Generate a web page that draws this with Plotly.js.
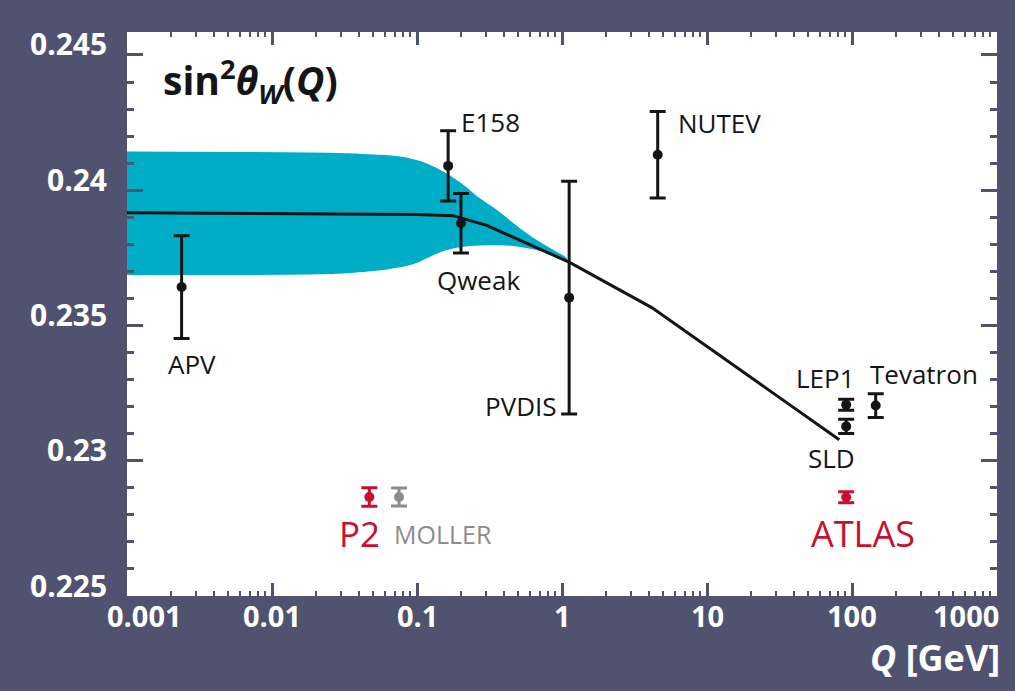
<!DOCTYPE html>
<html>
<head>
<meta charset="utf-8">
<script src="https://cdn.plot.ly/plotly-3.0.1.min.js"></script>
<style>
  html, body { margin: 0; padding: 0; background: #505370; }
  #chart { width: 1015px; height: 691px; }
</style>
</head>
<body>
<div id="chart"></div>
<script>
// Measurements of the weak mixing angle vs. momentum transfer Q [GeV]
const expNames = ['APV', 'E158', 'Qweak', 'PVDIS', 'NUTEV', 'LEP1', 'SLD', 'Tevatron'];
const expQ     = [0.00238, 0.164, 0.201, 1.12, 4.57, 91.19, 91.19, 145.7];
const expS     = [0.23642, 0.2409, 0.23878, 0.23603, 0.24131, 0.23207, 0.23127, 0.23204];
const expErr   = [0.0019, 0.0013, 0.0011, 0.0043, 0.0016, 0.0002, 0.00026, 0.00044];

// Projected precision of upcoming experiments
const futNames = ['P2', 'ATLAS'];
const futQ     = [0.0469, 91.19];
const futS     = [0.22866, 0.22865];
const futErr   = [0.00034, 0.0002];

const mollerQ   = [0.0752];
const mollerS   = [0.22866];
const mollerErr = [0.00033];

// Standard Model running of sin^2(theta_W)
const curveQ = [0.001, 0.01, 0.1, 0.177, 0.303, 1.12, 4.16, 81.7];
const curveS = [0.23917, 0.23914, 0.2391, 0.23906, 0.2387, 0.23734, 0.23566, 0.23078];

// Uncertainty band (upper and lower edge)
const bandTopQ = [0.001, 0.0294, 0.0473, 0.0764, 0.105, 0.144, 0.198, 0.272, 0.373, 0.459, 0.601, 0.783, 1.08];
const bandTopS = [0.24143, 0.24138, 0.24133, 0.24125, 0.24108, 0.24076, 0.2403, 0.2397, 0.23919, 0.2388, 0.23833, 0.23794, 0.23748];
const bandBotQ = [0.001, 0.0214, 0.0345, 0.0618, 0.0938, 0.117, 0.160, 0.232, 0.459, 0.783, 1.08];
const bandBotS = [0.23687, 0.23689, 0.23694, 0.23707, 0.23726, 0.23749, 0.23779, 0.23794, 0.23794, 0.23769, 0.23742];

// Axis ticks
const xTickVals = [0.001, 0.01, 0.1, 1, 10, 100, 1000];
const xTickText = ['0.001', '0.01', '0.1', '1', '10', '100', '1000'];
const yTickVals = [0.225, 0.23, 0.235, 0.24, 0.245];
const yTickText = ['0.225', '0.23', '0.235', '0.24', '0.245'];

const BG = '#505370';
const CYAN = '#00adc7';
const RED = '#c8102e';
const GREY = '#8c8c8c';
const INK = '#151515';

const W = 1015, H = 691;
const M = { l: 127, r: 18, t: 32, b: 95 };
const PW = W - M.l - M.r, PH = H - M.t - M.b;
const px = x => (x - M.l) / PW;
const py = y => (H - M.b - y) / PH;

const traces = [];

// band polygon: upper edge forward, lower edge back
traces.push({
  x: bandTopQ.concat(bandBotQ.slice().reverse()),
  y: bandTopS.concat(bandBotS.slice().reverse()),
  mode: 'lines', fill: 'toself', fillcolor: CYAN,
  line: { color: CYAN, width: 0, shape: 'spline', smoothing: 0.9 },
  hoverinfo: 'skip', showlegend: false
});

traces.push({
  x: curveQ, y: curveS, mode: 'lines',
  line: { color: INK, width: 3 },
  hoverinfo: 'skip', showlegend: false
});

function points(x, y, err, color) {
  return {
    x: x, y: y, mode: 'markers', type: 'scatter',
    marker: { color: color, size: 10 },
    error_y: { type: 'data', array: err, visible: true, color: color, thickness: 3, width: 8 },
    showlegend: false
  };
}
traces.push(points(expQ, expS, expErr, INK));
traces.push(points(futQ, futS, futErr, RED));
traces.push(points(mollerQ, mollerS, mollerErr, GREY));

const ann = [];
const LBL = { family: 'Open Sans, sans-serif', size: 26, color: INK };
function label(text, x, y, xanchor, font) {
  ann.push({ text: text, xref: 'paper', yref: 'paper', x: px(x), y: py(y),
    xanchor: xanchor, yanchor: 'middle', showarrow: false, font: font || LBL });
}

// experiment labels
label(expNames[0], 192, 364, 'center');
label(expNames[1], 459, 122, 'left');
label(expNames[2], 478, 280, 'center');
label(expNames[3], 559, 406, 'right');
label(expNames[4], 676, 123, 'left');
label(expNames[5], 825, 378, 'center');
label(expNames[6], 831, 458, 'center');
label(expNames[7], 868, 374, 'left');
label(futNames[0], 359, 533, 'center', { family: 'Open Sans, sans-serif', size: 35, color: RED });
label('MOLLER', 392, 534, 'left', { family: 'Open Sans, sans-serif', size: 25, color: GREY });
label(futNames[1], 863, 533, 'center', { family: 'Open Sans, sans-serif', size: 36, color: RED });

// chart title inside the frame
label('<b>sin<sup>2</sup><i>θ</i><sub><i>W</i></sub>(<i>Q</i>)</b>', 161, 81, 'left',
  { family: 'Open Sans, sans-serif', size: 39, color: INK });

// axis title
ann.push({ text: '<b><i>Q</i> [GeV]</b>', xref: 'paper', yref: 'paper', x: px(1002), y: py(657),
  xanchor: 'right', yanchor: 'middle', showarrow: false,
  font: { family: 'Open Sans, sans-serif', size: 36, color: '#ffffff' } });

// tick labels
const TICK = { family: 'Open Sans, sans-serif', size: 29, color: '#ffffff' };
const YTICK = { family: 'Open Sans, sans-serif', size: 30, color: '#ffffff' };
xTickVals.forEach((v, i) => {
  let shift = 0;
  if (i === 0) shift = 17;
  if (i === xTickVals.length - 1) shift = -31;
  ann.push({ text: '<b>' + xTickText[i] + '</b>', xref: 'x', yref: 'paper', x: Math.log10(v), y: 0,
    xshift: shift, yshift: -19, xanchor: 'center', yanchor: 'middle', showarrow: false, font: TICK });
});
yTickVals.forEach((v, i) => {
  ann.push({ text: '<b>' + yTickText[i] + '</b>', xref: 'paper', yref: 'y', x: px(109), y: v,
    yshift: 11, xanchor: 'right', yanchor: 'middle', showarrow: false, font: YTICK });
});

const layout = {
  width: W, height: H,
  margin: M,
  paper_bgcolor: BG, plot_bgcolor: '#ffffff',
  showlegend: false,
  xaxis: {
    type: 'log', range: [-3, 3],
    tickvals: xTickVals, showticklabels: false,
    ticks: 'inside', ticklen: 13, tickwidth: 3, tickcolor: BG,
    minor: { ticks: 'inside', ticklen: 5, tickwidth: 2, tickcolor: BG, dtick: 'D1', showgrid: false },
    mirror: 'allticks', showline: false, showgrid: false, zeroline: false
  },
  yaxis: {
    range: [0.225, 0.24585],
    tickvals: yTickVals, showticklabels: false,
    ticks: 'inside', ticklen: 16, tickwidth: 3, tickcolor: BG,
    minor: { ticks: 'inside', ticklen: 7, tickwidth: 3, tickcolor: BG, dtick: 0.001, tick0: 0.225, showgrid: false },
    mirror: 'allticks', showline: false, showgrid: false, zeroline: false
  },
  annotations: ann
};

Plotly.newPlot('chart', traces, layout, { staticPlot: true, displayModeBar: false });
</script>
</body>
</html>
